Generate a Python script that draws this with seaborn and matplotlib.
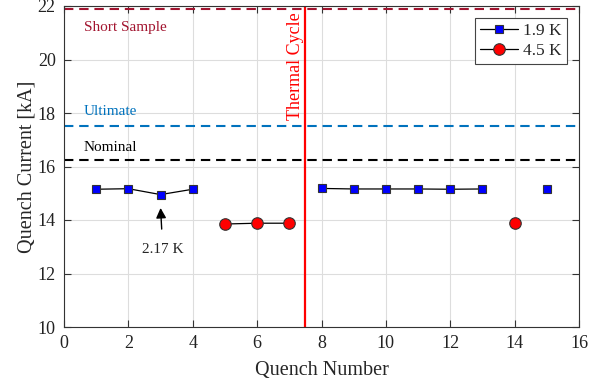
import numpy as np
import pandas as pd
import matplotlib
matplotlib.use("Agg")
import matplotlib.pyplot as plt
import seaborn as sns
from matplotlib.lines import Line2D

# Data
q_19 = [1, 2, 3, 4, 8, 9, 10, 11, 12, 13, 15]
i_19 = [15.15, 15.17, 14.95, 15.15, 15.18, 15.16, 15.16, 15.16, 15.15, 15.16, 15.16]
seg_19 = [0, 0, 0, 0, 1, 1, 1, 1, 1, 1, 2]
q_45 = [5, 6, 7, 14]
i_45 = [13.85, 13.88, 13.88, 13.89]
seg_45 = [0, 0, 0, 1]
short_sample = 21.9
ultimate = 17.5
nominal = 16.23
thermal_cycle_x = 7.5

sns.set_theme(style="whitegrid")
plt.rcParams['font.family'] = ['Liberation Serif', 'DejaVu Serif']

fig = plt.figure(figsize=(6.05, 3.84), dpi=100)
ax = fig.add_axes([64/605, 1 - 327/384, (579-64)/605, (327-6)/384])

df19 = pd.DataFrame({"q": q_19, "i": i_19, "seg": seg_19})
df45 = pd.DataFrame({"q": q_45, "i": i_45, "seg": seg_45})

dash = (0, (4.5, 2.8))
ax.axhline(short_sample, color="#a2142f", ls=dash, lw=1.5, zorder=2)
ax.axhline(ultimate, color="#0072bd", ls=dash, lw=1.5, zorder=2)
ax.axhline(nominal, color="black", ls=dash, lw=1.5, zorder=2)
ax.axvline(thermal_cycle_x, color="red", lw=1.6, zorder=2)

sq = dict(marker="s", markersize=6.2, markerfacecolor="blue",
          markeredgecolor="#333333", markeredgewidth=0.8)
ci = dict(marker="o", markersize=8.3, markerfacecolor="red",
          markeredgecolor="#333333", markeredgewidth=0.8)

sns.lineplot(data=df19, x="q", y="i", units="seg", estimator=None, ax=ax,
             color="black", lw=0.9, legend=False, zorder=3, **sq)
sns.lineplot(data=df45, x="q", y="i", units="seg", estimator=None, ax=ax,
             color="black", lw=0.9, legend=False, zorder=3, **ci)

h1 = Line2D([], [], color="black", lw=0.9, **sq)
h2 = Line2D([], [], color="black", lw=0.9, **ci)
leg = ax.legend([h1, h2], ["1.9 K", "4.5 K"], loc="upper right", fontsize=12.5,
                frameon=True, fancybox=False, edgecolor="#444444",
                bbox_to_anchor=(0.977, 0.963), borderaxespad=0.0,
                handlelength=2.2, labelspacing=0.2, borderpad=0.3, handletextpad=0.3)
leg.get_frame().set_linewidth(0.8)
leg.get_frame().set_alpha(1)

ax.text(0.62, 21.2, "Short Sample", color="#a2142f", fontsize=11, va="center")
ax.text(0.62, 18.07, "Ultimate", color="#0072bd", fontsize=11, va="center")
ax.text(0.62, 16.72, "Nominal", color="black", fontsize=11, va="center")
ax.text(7.2, 17.74, "Thermal Cycle", color="red", fontsize=13, rotation=90,
        ha="center", va="bottom")
ax.annotate("2.17 K", xy=(3.0, 14.45), xytext=(3.07, 12.88), fontsize=11,
            ha="center", va="center",
            arrowprops=dict(arrowstyle="-|>", color="black", lw=1.0,
                            mutation_scale=15, shrinkB=0, shrinkA=8))

ax.set_xlim(0, 16)
ax.set_ylim(10, 22)
ax.set_xticks(range(0, 17, 2))
ax.set_yticks(range(10, 23, 2))
ax.set_xlabel("Quench Number", fontsize=14.5, labelpad=6)
ax.set_ylabel("Quench Current [kA]", fontsize=14.5, labelpad=1)
ax.tick_params(axis="both", labelsize=13, direction="in", length=5, width=0.8,
               top=True, right=True, bottom=True, left=True, pad=6, colors="#333333",
               labelcolor="#222222")
ax.grid(True, color="#dddddd", lw=0.8)
for s in ax.spines.values():
    s.set_color("#333333")
    s.set_linewidth(0.8)
ax.set_facecolor("white")
fig.patch.set_facecolor("white")

fig.savefig("out.png", dpi=100)
